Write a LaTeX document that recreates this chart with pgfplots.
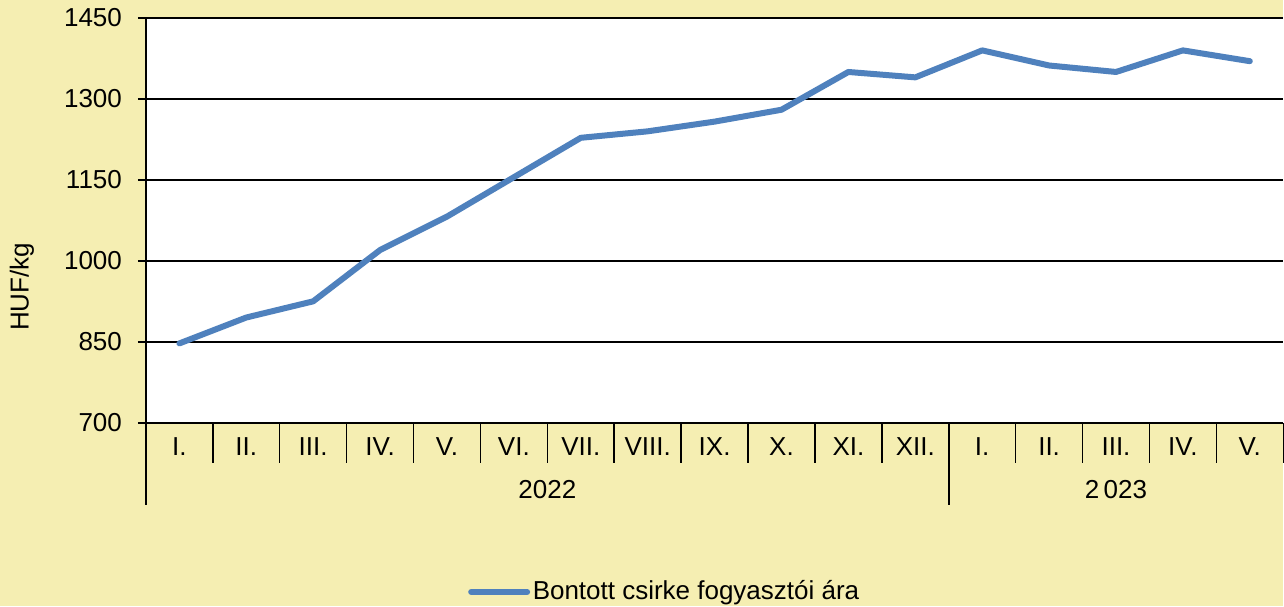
\documentclass[border=0pt]{standalone}
\usepackage{fontspec}
\setmainfont{Liberation Sans}
\usepackage{pgfplots}
\pgfplotsset{compat=1.18}
\definecolor{bg}{HTML}{F5EEB2}
\definecolor{serie}{HTML}{4F81BD}
\begin{document}
\fontsize{13pt}{15pt}\selectfont
\begin{tikzpicture}
\fill[bg] (0,0) rectangle (642pt,303pt);
\begin{axis}[
  at={(73pt,91.5pt)}, anchor=south west,
  scale only axis, width=569pt, height=202.5pt,
  xmin=0.5, xmax=17.5, ymin=700, ymax=1450,
  ytick={700,850,...,1450},
  axis background/.style={fill=white},
  axis x line=bottom, axis y line=left,
  axis line style={black, line width=0.75pt, -},
  ymajorgrids, grid style={black, line width=0.75pt},
  major tick length=4pt, tick align=outside,
  ytick style={black, line width=0.75pt},
  xtick style={draw=none},
  xtick={1,...,17},
  xticklabels={I.,II.,III.,IV.,V.,VI.,VII.,VIII.,IX.,X.,XI.,XII.,I.,II.,III.,IV.,V.},
  xticklabel style={anchor=base, yshift=-12.5pt},
  yticklabel style={anchor=east, xshift=-3.5pt},
  /pgf/number format/1000 sep={},
  /pgf/number format/assume math mode=true,
  ylabel={HUF/kg},
  every axis y label/.style={at={(rel axis cs:0,0.336)}, xshift=-62pt, rotate=90, anchor=center},
  clip=false,
  legend style={at={(0.283,-0.418)}, anchor=west, draw=none, fill=none, inner sep=0pt, nodes={inner sep=1.3pt}, font=\fontsize{13pt}{15pt}\selectfont},
  legend image code/.code={\draw[#1, line cap=round] (0pt,0pt) -- (28pt,0pt);},
  legend cell align=left,
]
\addplot[serie, line width=3pt, line join=round, line cap=round] coordinates {
 (1,847) (2,895) (3,925) (4,1020) (5,1082) (6,1155) (7,1228) (8,1240) (9,1258)
 (10,1280) (11,1350) (12,1340) (13,1390) (14,1362) (15,1350) (16,1390) (17,1370)
};
\addlegendentry{Bontott csirke fogyasztói ára}
\foreach \s in {1.5,2.5,3.5,4.5,5.5,6.5,7.5,8.5,9.5,10.5,11.5,13.5,14.5,15.5,16.5,17.5}{
  \edef\temp{\noexpand\draw[black, line width=0.75pt] (axis cs:\s,700) -- ++(0pt,-20pt);}\temp
}
\draw[black, line width=0.75pt] (axis cs:0.5,700) -- ++(0pt,-41pt);
\draw[black, line width=0.75pt] (axis cs:12.5,700) -- ++(0pt,-41pt);
\node[anchor=base] at ([yshift=-38pt]axis cs:6.5,700) {2022};
\node[anchor=base] at ([yshift=-38pt]axis cs:15,700) {2\,023};
\end{axis}
\end{tikzpicture}
\end{document}
